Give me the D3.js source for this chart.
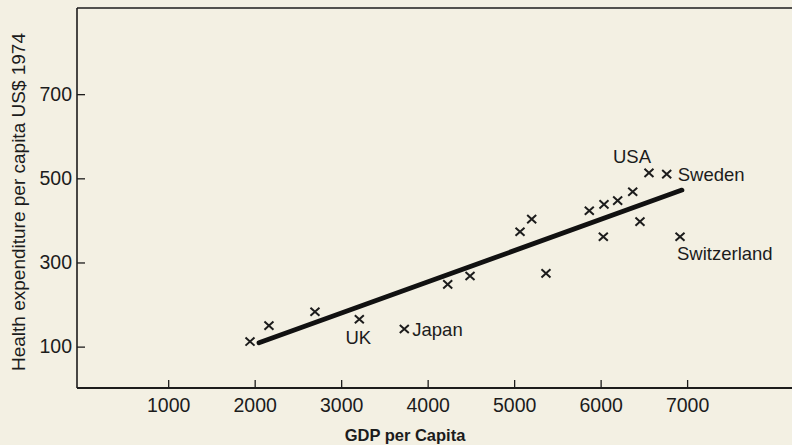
<!DOCTYPE html>
<html>
<head>
<meta charset="utf-8">
<script src="https://cdn.jsdelivr.net/npm/d3@7"></script>
<style>
  html, body { margin: 0; padding: 0; background: #f3f0e3; }
  svg { display: block; }
  text { font-family: "Liberation Sans", Arial, sans-serif; fill: #1c1c1c; }
</style>
</head>
<body>
<svg id="chart" width="792" height="445"></svg>
<script>
// ---- Data ----
const countries = ["", "", "", "UK", "Japan", "", "", "", "", "", "", "", "", "", "", "", "USA", "Sweden", "Switzerland"];
const gdpPerCapita = [1946, 2165, 2697, 3210, 3730, 4232, 4490, 5068, 5203, 5368, 5869, 6039, 6197, 6371, 6455, 6031, 6559, 6764, 6918];
const healthPerCapita = [112, 150, 183, 165, 142, 248, 268, 373, 403, 274, 423, 438, 447, 468, 397, 361, 513, 510, 361];
const trendGdp = [2050, 6940];
const trendHealth = [109, 472];
const xTicks = [1000, 2000, 3000, 4000, 5000, 6000, 7000];
const yTicks = [100, 300, 500, 700];
const xTitle = "GDP per Capita";
const yTitle = "Health expenditure per capita US$ 1974";

// ---- Layout ----
const frameLeft = 77, frameTop = 8, frameBottom = 388, frameRight = 792;
const ink = "#1c1c1c";
const tickFont = 19.5;

const svg = d3.select("#chart");
const x = d3.scaleLinear().domain([0, 8000]).range([81.7, 773.6]);
const y = d3.scaleLinear().domain([0, 800]).range([388.7, 52.1]);

// frame: top line, left axis, bottom axis
svg.append("line").attr("x1", frameLeft).attr("x2", frameRight).attr("y1", frameTop).attr("y2", frameTop)
  .attr("stroke", ink).attr("stroke-width", 1.6);
svg.append("line").attr("x1", frameLeft).attr("x2", frameLeft).attr("y1", frameTop).attr("y2", frameBottom)
  .attr("stroke", ink).attr("stroke-width", 1.6);
svg.append("line").attr("x1", frameLeft).attr("x2", frameRight).attr("y1", frameBottom).attr("y2", frameBottom)
  .attr("stroke", ink).attr("stroke-width", 1.8);

// x axis (inward ticks)
const xAxis = d3.axisBottom(x).tickValues(xTicks).tickSizeInner(-8).tickSizeOuter(0).tickPadding(10).tickFormat(d3.format("d"));
const gx = svg.append("g").attr("transform", `translate(0,${frameBottom})`).call(xAxis);
gx.select(".domain").remove();
gx.selectAll(".tick line").attr("stroke", ink).attr("stroke-width", 1.3);
gx.selectAll(".tick text").attr("font-size", tickFont).attr("font-family", "Liberation Sans, Arial, sans-serif").attr("fill", ink).attr("dy", "0.71em");

// y axis (inward ticks)
const yAxis = d3.axisLeft(y).tickValues(yTicks).tickSizeInner(-8).tickSizeOuter(0).tickPadding(5).tickFormat(d3.format("d"));
const gy = svg.append("g").attr("transform", `translate(${frameLeft},0)`).call(yAxis);
gy.select(".domain").remove();
gy.selectAll(".tick line").attr("stroke", ink).attr("stroke-width", 1.3);
gy.selectAll(".tick text").attr("font-size", tickFont).attr("font-family", "Liberation Sans, Arial, sans-serif").attr("fill", ink);

// axis titles
svg.append("text").attr("x", 405).attr("y", 441).attr("text-anchor", "middle")
  .attr("font-size", 16.5).attr("font-weight", "bold").text(xTitle);
svg.append("text").attr("transform", "translate(25,202) rotate(-90)").attr("text-anchor", "middle")
  .attr("font-size", 19).text(yTitle);

// trend line
const line = d3.line().x(d => x(d[0])).y(d => y(d[1]));
svg.append("path").datum(d3.zip(trendGdp, trendHealth)).attr("d", line)
  .attr("fill", "none").attr("stroke", "#111").attr("stroke-width", 4.8).attr("stroke-linecap", "round");

// cross markers
const pts = d3.range(gdpPerCapita.length).map(i => ({ name: countries[i], gx: gdpPerCapita[i], hy: healthPerCapita[i] }));
const s = 4.5;
const marks = svg.append("g").selectAll("g").data(pts).join("g")
  .attr("transform", d => `translate(${x(d.gx)},${y(d.hy)})`);
marks.append("path").attr("d", `M${-s},${-s * 0.9}L${s},${s * 0.9}M${-s},${s * 0.9}L${s},${-s * 0.9}`)
  .attr("stroke", ink).attr("stroke-width", 2).attr("fill", "none");

// labels placement
const labelPos = {
  "UK": { dx: -1, dy: 25, anchor: "middle" },
  "Japan": { dx: 8, dy: 7, anchor: "start" },
  "USA": { dx: -17, dy: -10, anchor: "middle" },
  "Sweden": { dx: 11, dy: 7, anchor: "start" },
  "Switzerland": { dx: -3, dy: 23, anchor: "start" }
};
svg.append("g").selectAll("text").data(pts.filter(d => d.name)).join("text")
  .attr("x", d => x(d.gx) + labelPos[d.name].dx)
  .attr("y", d => y(d.hy) + labelPos[d.name].dy)
  .attr("text-anchor", d => labelPos[d.name].anchor)
  .attr("font-size", 18.5)
  .text(d => d.name);
</script>
</body>
</html>
